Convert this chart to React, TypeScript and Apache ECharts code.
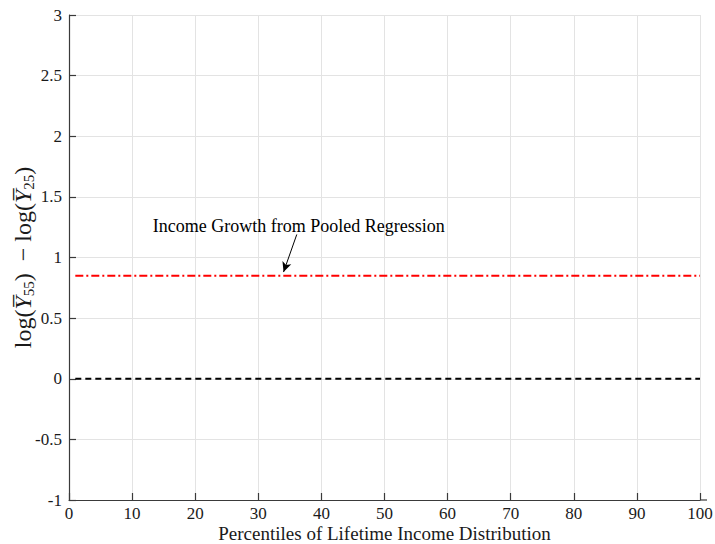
import React, { useEffect, useRef } from "react";
import * as echarts from "echarts";

// Horizontal reference lines, drawn between the first and last percentile
const lineX = [1, 100];
const pooledGrowth = [0.85, 0.85];
const zeroLine = [0, 0];

const xTicks = [0, 10, 20, 30, 40, 50, 60, 70, 80, 90, 100];
const yTicks = [-1, -0.5, 0, 0.5, 1, 1.5, 2, 2.5, 3];

const annotationText = "Income Growth from Pooled Regression";
const annotationAnchor = [36.4, 1.26];
const arrowFrom = [36.1, 1.19];
const arrowTo = [34.0, 0.88];

const SERIF = "Liberation Serif";
const AXIS_COLOR = "#3a3a3a";
const TEXT_COLOR = "#1a1a1a";

export default function App() {
  const ref = useRef<HTMLDivElement>(null);

  useEffect(() => {
    if (!ref.current) return;
    const chart = echarts.init(ref.current, null, { renderer: "svg" });

    const toPairs = (ys: number[]) => lineX.map((x, i) => [x, ys[i]]);

    const yName =
      "{n|log(}{y|Y\u0305}{s|55}{n|)  \u2212 log(}{y|Y\u0305}{s|25}{n|)}";

    const tickText = { fontFamily: SERIF, fontSize: 17, color: TEXT_COLOR };
    const tickLabel = {
      show: true,
      ...tickText,
      formatter: (v: number) => "{t|" + String(v) + "}",
      rich: { t: tickText },
    };

    chart.setOption({
      animation: false,
      backgroundColor: "#ffffff",
      textStyle: { fontFamily: SERIF, color: TEXT_COLOR, fontSize: 17 },
      grid: {
        left: 69,
        right: 15,
        top: 15,
        bottom: 44,
        containLabel: false,
        outerBoundsMode: "none",
      },
      xAxis: {
        type: "value",
        min: xTicks[0],
        max: xTicks[xTicks.length - 1],
        interval: 10,
        name: "Percentiles of Lifetime Income Distribution",
        nameLocation: "middle",
        nameGap: 24,
        nameMoveOverlap: false,
        nameTextStyle: { fontFamily: SERIF, color: TEXT_COLOR, fontSize: 19 },
        axisLine: { show: true, onZero: false, lineStyle: { color: AXIS_COLOR, width: 1.2 } },
        axisTick: { show: true, inside: true, length: 7, lineStyle: { color: AXIS_COLOR, width: 1.2 } },
        axisLabel: { ...tickLabel, margin: 5 },
        splitLine: { show: true, lineStyle: { color: "#e3e3e3", width: 1 } },
      },
      yAxis: {
        type: "value",
        min: yTicks[0],
        max: yTicks[yTicks.length - 1],
        interval: 0.5,
        name: yName,
        nameLocation: "middle",
        nameRotate: 90,
        nameGap: 33,
        nameMoveOverlap: false,
        nameTextStyle: {
          fontFamily: SERIF,
          color: TEXT_COLOR,
          fontSize: 24,
          rich: {
            n: { fontFamily: SERIF, fontSize: 24, color: TEXT_COLOR, lineHeight: 26 },
            y: { fontFamily: SERIF, fontSize: 24, fontStyle: "italic", color: TEXT_COLOR, lineHeight: 26 },
            s: {
              fontFamily: SERIF,
              fontSize: 15,
              color: TEXT_COLOR,
              lineHeight: 20,
              verticalAlign: "bottom",
            },
          },
        },
        axisLine: { show: true, onZero: false, lineStyle: { color: AXIS_COLOR, width: 1.2 } },
        axisTick: { show: true, inside: true, length: 7, lineStyle: { color: AXIS_COLOR, width: 1.2 } },
        axisLabel: { ...tickLabel, margin: 7 },
        splitLine: { show: true, lineStyle: { color: "#e3e3e3", width: 1 } },
      },
      graphic: [
        {
          // short run-out of the x-axis line past the last tick
          type: "line",
          shape: { x1: 700, y1: 500, x2: 707, y2: 500 },
          style: { stroke: AXIS_COLOR, lineWidth: 1.2 },
          silent: true,
        },
      ],
      series: [
        {
          type: "line",
          data: toPairs(zeroLine),
          symbol: "none",
          lineStyle: { color: "#000000", width: 1.8, type: [6, 4] },
          z: 3,
        },
        {
          type: "line",
          data: toPairs(pooledGrowth),
          symbol: "none",
          lineStyle: { color: "#ff0000", width: 2, type: [8, 3, 2, 3] },
          z: 4,
          markPoint: {
            symbol: "circle",
            symbolSize: 0,
            data: [
              {
                coord: annotationAnchor,
                label: {
                  show: true,
                  position: "inside",
                  formatter: annotationText,
                  fontFamily: SERIF,
                  fontSize: 18,
                  color: "#000000",
                },
              },
            ],
          },
          markLine: {
            silent: true,
            symbol: ["none", "arrow"],
            symbolSize: [7, 10],
            label: { show: false },
            lineStyle: { color: "#000000", width: 1, type: "solid" },
            data: [[{ coord: arrowFrom }, { coord: arrowTo }]],
          },
        },
      ],
    });

    return () => chart.dispose();
  }, []);

  return (
    <div
      ref={ref}
      style={{ position: "fixed", left: 0, top: 0, width: 715, height: 544 }}
    />
  );
}
